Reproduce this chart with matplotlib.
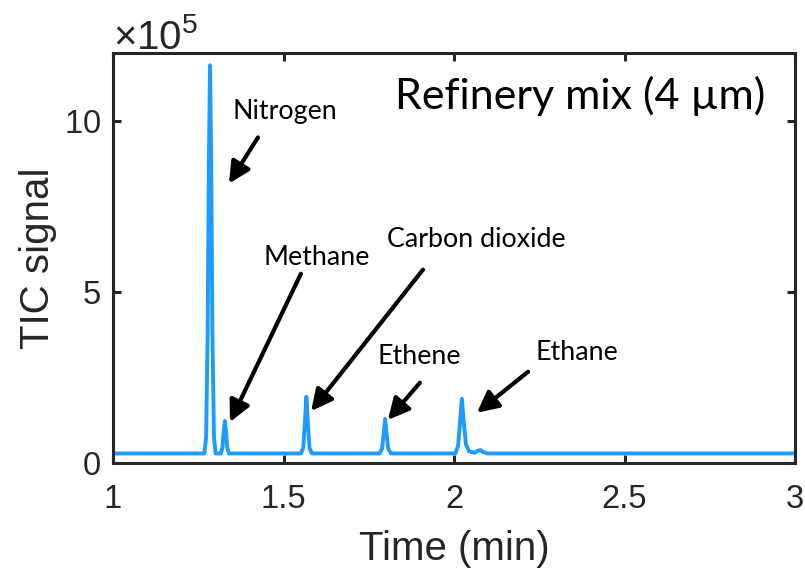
"""
TIC chromatogram of the refinery gas mix on the 4 um column.
"""
import matplotlib
matplotlib.use('Agg')
import matplotlib.pyplot as plt
from matplotlib.ticker import FormatStrFormatter

plt.rcParams['font.family'] = ['Liberation Sans', 'DejaVu Sans']
plt.rcParams['mathtext.fontset'] = 'custom'
plt.rcParams['mathtext.rm'] = 'Liberation Sans'
plt.rcParams['mathtext.it'] = 'Liberation Sans'

# retention time (min) and TIC signal (counts), baseline plus the five peaks
time_min = [1.000, 1.268, 1.273, 1.2775, 1.281, 1.2845, 1.288, 1.2915, 1.296, 1.301,
            1.316, 1.321, 1.3245, 1.328, 1.3315, 1.335, 1.340,
            1.551, 1.558, 1.563, 1.567, 1.571, 1.576, 1.583,
            1.782, 1.789, 1.794, 1.798, 1.802, 1.807, 1.815,
            2.004, 2.012, 2.018, 2.023, 2.028, 2.035, 2.044, 2.060, 2.070, 2.077, 2.085, 2.098,
            3.000]
tic_signal = [0.28e5, 0.28e5, 0.75e5, 3.8e5, 8.8e5, 11.64e5, 8.8e5, 3.8e5, 0.75e5, 0.28e5,
              0.28e5, 0.45e5, 0.92e5, 1.23e5, 0.92e5, 0.45e5, 0.28e5,
              0.28e5, 0.45e5, 1.25e5, 1.94e5, 1.25e5, 0.45e5, 0.28e5,
              0.28e5, 0.42e5, 0.88e5, 1.29e5, 0.88e5, 0.42e5, 0.28e5,
              0.28e5, 0.50e5, 1.25e5, 1.88e5, 1.25e5, 0.55e5, 0.34e5, 0.30e5, 0.36e5, 0.38e5, 0.32e5, 0.28e5,
              0.28e5]

# peak labels: name, text anchor (left, baseline), arrow tail, arrow tip
peak_names = ['Nitrogen', 'Methane', 'Carbon dioxide', 'Ethene', 'Ethane']
label_pos = [(1.349, 10.06e5), (1.440, 5.81e5), (1.804, 6.33e5), (1.777, 2.90e5), (2.240, 3.02e5)]
arrow_tail = [(1.425, 9.53e5), (1.551, 5.54e5), (1.909, 5.66e5), (1.900, 2.35e5), (2.217, 2.67e5)]
arrow_tip = [(1.340, 8.18e5), (1.343, 1.20e5), (1.581, 1.52e5), (1.806, 1.26e5), (2.067, 1.47e5)]

x_ticks = [1, 1.5, 2, 2.5, 3]
y_ticks = [0, 5e5, 10e5]

label_font = ['Lato', 'DejaVu Sans']
axis_color = '#262626'

fig = plt.figure(figsize=(8.05, 5.70), dpi=100)
ax = fig.add_axes([0.1404, 0.1877, 0.8472, 0.7193])

ax.plot(time_min, tic_signal, color='#1E9BFF', lw=2.8, solid_joinstyle='round')

ax.set_xlim(1, 3)
ax.set_ylim(0, 12e5)
ax.set_xticks(x_ticks)
ax.set_yticks(y_ticks)
ax.xaxis.set_major_formatter(FormatStrFormatter('%g'))
ax.ticklabel_format(axis='y', style='sci', scilimits=(5, 5), useMathText=True)

for side in ax.spines.values():
    side.set_linewidth(2.2)
    side.set_color(axis_color)
ax.tick_params(direction='in', length=6, width=2.2, color=axis_color,
               labelsize=23.5, labelcolor=axis_color, top=True, right=True)
ax.tick_params(axis='x', pad=15)
ax.tick_params(axis='y', pad=9)
ax.yaxis.get_offset_text().set_fontsize(29)
ax.yaxis.get_offset_text().set_color(axis_color)

ax.set_xlabel('Time (min)', fontsize=29, color=axis_color, labelpad=11)
ax.set_ylabel('TIC signal', fontsize=29, color=axis_color, labelpad=5)

for name, pos, tail, tip in zip(peak_names, label_pos, arrow_tail, arrow_tip):
    ax.text(pos[0], pos[1], name, family=label_font, fontsize=19.3,
            ha='left', va='baseline', color='black')
    ax.annotate('', xy=tip, xytext=tail,
                arrowprops=dict(arrowstyle='-|>', color='black', lw=3,
                                mutation_scale=32, shrinkA=0, shrinkB=0))

ax.text(1.827, 10.35e5, 'Refinery mix (4 µm)', family=label_font, fontsize=31,
        ha='left', va='baseline', color='black')

fig.savefig('out.png', dpi=100)
